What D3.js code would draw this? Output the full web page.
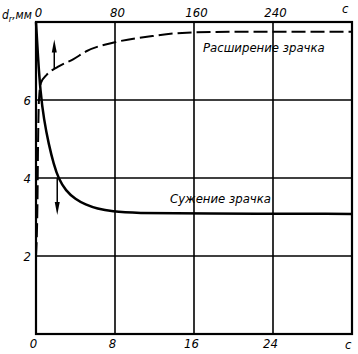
<!DOCTYPE html>
<html>
<head>
<meta charset="utf-8">
<script src="https://cdn.jsdelivr.net/npm/d3@7"></script>
<style>
  body { margin: 0; background: #fff; }
  text { font-family: "DejaVu Sans Condensed", "DejaVu Sans", sans-serif; font-style: italic; fill: #000; }
</style>
</head>
<body>
<svg id="chart" width="358" height="354"></svg>
<script>
// constriction (bottom time scale, s) and dilation (top time scale, s), pupil diameter in mm
const constrictT = [0, 0.2, 0.45, 0.8, 1.3, 1.8, 2.3, 3, 4, 5, 6.2, 7.7, 10, 16, 32];
const constrictD = [8, 7.1, 6.2, 5.5, 4.85, 4.35, 3.97, 3.68, 3.45, 3.32, 3.21, 3.14, 3.1, 3.09, 3.08];
const dilateT = [0, 1.5, 2, 3, 5, 11, 22, 38, 51, 80, 118, 148, 200, 320];
const dilateD = [2.0, 3.4, 4.7, 6.0, 6.44, 6.65, 6.85, 7.05, 7.25, 7.48, 7.64, 7.72, 7.75, 7.75];
const bottomTicks = [0, 8, 16, 24];
const topTicks = [0, 80, 160, 240];
const yTicks = [2, 4, 6];

const svg = d3.select("#chart");
const xBot = d3.scaleLinear().domain([0, 32]).range([36, 352]);
const xTop = d3.scaleLinear().domain([0, 320]).range([36, 352]);
const y = d3.scaleLinear().domain([0, 8]).range([334, 22]);

// grid
svg.append("g").selectAll("line").data([8, 16, 24]).join("line")
  .attr("x1", d => xBot(d)).attr("x2", d => xBot(d))
  .attr("y1", y(0)).attr("y2", y(8))
  .attr("stroke", "#000").attr("stroke-width", 1.6);
svg.append("g").selectAll("line").data(yTicks).join("line")
  .attr("x1", xBot(0)).attr("x2", xBot(32))
  .attr("y1", d => y(d)).attr("y2", d => y(d))
  .attr("stroke", "#000").attr("stroke-width", 1.6);
svg.append("rect")
  .attr("x", xBot(0)).attr("y", y(8))
  .attr("width", xBot(32) - xBot(0)).attr("height", y(0) - y(8))
  .attr("fill", "none").attr("stroke", "#000").attr("stroke-width", 2.2);

// axes labels
const botAxis = svg.append("g").attr("transform", `translate(0,${y(0) + 5})`)
  .call(d3.axisBottom(xBot).tickValues(bottomTicks).tickSize(0).tickPadding(0));
const topAxis = svg.append("g").attr("transform", `translate(0,${y(8) - 5})`)
  .call(d3.axisTop(xTop).tickValues(topTicks).tickSize(0).tickPadding(0));
const leftAxis = svg.append("g").attr("transform", `translate(${xBot(0) - 5},0)`)
  .call(d3.axisLeft(y).tickValues(yTicks).tickSize(0).tickPadding(0));
[botAxis, topAxis, leftAxis].forEach(a => {
  a.select(".domain").remove();
  a.selectAll("text").style("font-family", null).attr("font-size", 13);
});
botAxis.selectAll("text").attr("dx", -3);
topAxis.selectAll("text").attr("dx", 2);

svg.append("text").attr("x", 345).attr("y", 349).attr("font-size", 13).text("c");
svg.append("text").attr("x", 342).attr("y", 13).attr("font-size", 13).text("c");

const yl = svg.append("text").attr("x", 2).attr("y", 19).attr("font-size", 12);
yl.append("tspan").text("d");
yl.append("tspan").attr("font-size", 9).attr("dy", 3).text("r");
yl.append("tspan").attr("dy", -3).text(",мм");

// curves
const cData = constrictT.map((t, i) => [t, constrictD[i]]);
const dData = dilateT.map((t, i) => [t, dilateD[i]]);

svg.append("path")
  .attr("d", d3.line().x(d => xTop(d[0])).y(d => y(d[1])).curve(d3.curveMonotoneX)(dData))
  .attr("fill", "none").attr("stroke", "#000").attr("stroke-width", 2)
  .attr("stroke-dasharray", "14,5");
svg.append("path")
  .attr("d", d3.line().x(d => xBot(d[0])).y(d => y(d[1])).curve(d3.curveBasis)(cData))
  .attr("fill", "none").attr("stroke", "#000").attr("stroke-width", 2.5);

// arrows
function arrow(t, v0, v1) {
  const x = xBot(t), ya = y(v0), yb = y(v1);
  const dir = yb < ya ? 1 : -1;
  svg.append("line").attr("x1", x).attr("x2", x).attr("y1", ya).attr("y2", yb + dir * 8)
    .attr("stroke", "#000").attr("stroke-width", 1.5);
  svg.append("path")
    .attr("d", `M${x},${yb} L${x - 2.5},${yb + dir * 13} L${x + 2.5},${yb + dir * 13} Z`)
    .attr("fill", "#000");
}
arrow(1.85, 6.8, 7.55);
arrow(2.15, 4.0, 3.05);

// curve labels
svg.append("text").attr("x", 203).attr("y", 52).attr("font-size", 13).text("Расширение зрачка");
svg.append("text").attr("x", 170).attr("y", 203).attr("font-size", 13).text("Сужение зрачка");
</script>
</body>
</html>
